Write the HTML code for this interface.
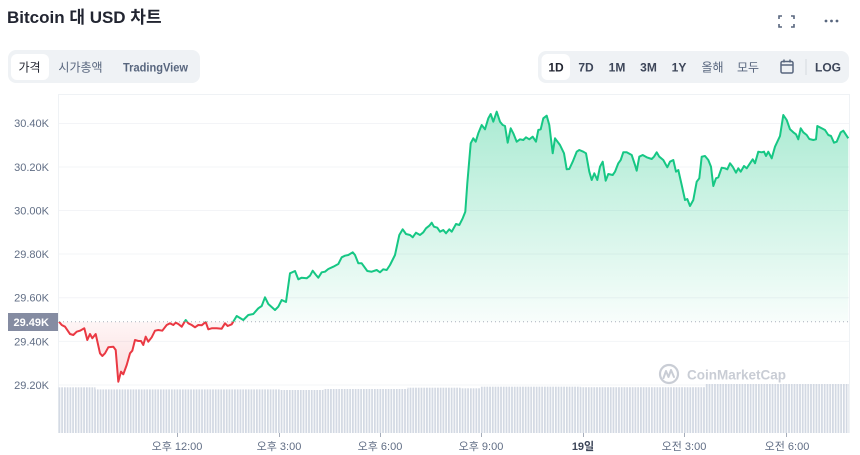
<!DOCTYPE html>
<html><head><meta charset="utf-8">
<style>
html,body{margin:0;padding:0;background:#fff;}
body{width:860px;height:455px;overflow:hidden;position:relative;font-family:"Liberation Sans","Noto Sans CJK KR",sans-serif;}
svg{position:absolute;left:0;top:0;}
text{font-family:"Liberation Sans","Noto Sans CJK KR",sans-serif;}
</style></head>
<body>
<svg width="860" height="455" viewBox="0 0 860 455" xmlns="http://www.w3.org/2000/svg" xmlns:xlink="http://www.w3.org/1999/xlink">
<defs>
  <linearGradient id="gg" gradientUnits="userSpaceOnUse" x1="0" y1="112" x2="0" y2="322">
    <stop offset="0" stop-color="#16c784" stop-opacity="0.36"/>
    <stop offset="1" stop-color="#16c784" stop-opacity="0.03"/>
  </linearGradient>
  <linearGradient id="rg" gradientUnits="userSpaceOnUse" x1="0" y1="322" x2="0" y2="383">
    <stop offset="0" stop-color="#ea3943" stop-opacity="0.05"/>
    <stop offset="1" stop-color="#ea3943" stop-opacity="0.18"/>
  </linearGradient>
  <clipPath id="above"><rect x="0" y="90" width="860" height="231.8"/></clipPath>
  <clipPath id="below"><rect x="0" y="321.8" width="860" height="120"/></clipPath>
  <pattern id="vb" patternUnits="userSpaceOnUse" x="58.5" y="0" width="2.743" height="455">
    <rect x="0" y="0" width="1.75" height="455" fill="#d3d9e3"/>
  </pattern>
  <path id="area" d="M58.5,321.8 L59,321.7 61.7,325 65,326.7 70,334 73.3,335 76.7,331.7 80,330.7 84.3,328.3 87.3,340 90,334 92.3,338.3 95.7,334 100,353.3 102.3,356 105,353.3 108.3,347.3 113.3,346.7 115.7,350 118.3,381.7 121,371.7 123.3,374.3 126.7,365 130,353.3 132.3,350.7 135,340 138.3,341 141,341 143.3,345 145.7,336.7 148.3,341.7 151.7,337.3 155,330.7 158.3,330 162.3,330.7 166.7,325 170,323.3 173.3,325 175.7,322.7 178.3,324 181.7,326.7 185.7,320 188.3,323.3 191.7,325 195,327.3 198.3,325 201.7,325.3 205.7,322 208.3,329.3 211.7,328.3 216.7,328.3 221.7,328.7 225,323.3 227.7,326 231.7,324.3 236.7,316 240,318 243.3,320 248.3,315 253.3,314 258.3,308.3 261.7,306 265,297.3 268.3,304 275,310 278.3,306.7 281.7,300 286,302 290,273.3 295,271 298.3,279.3 301.7,277.7 306.7,278.3 310,275.7 312.7,270.7 316,275 318.3,277.7 321.7,272.3 325,271.7 328.3,269 333.3,266.7 338.3,264 341.7,257.3 345,255.7 348.3,255 352.7,252.3 355,255 358.3,263.3 361.7,263.3 367.3,271 371.7,271.7 376.7,270 380,272.3 383.3,269.3 386.7,270 390,265 395,255 399.3,235 402.7,229.3 406,234 410,235 412.7,237.3 416,232.7 420,235 423.3,232.3 426,228.3 429.3,225.7 431.7,222.7 434,226.7 437.3,227.7 440,231.7 443.3,230 446,233.3 449.3,229.3 451.7,231.7 456,224 459.3,225 462.7,218.3 465.3,211.7 467.3,183.3 470.7,143.3 473.3,138.3 475.7,141.7 478.3,133.3 481.7,125 485,129.3 488.3,118.3 490.7,114 493.3,121.7 496.7,111.7 500,121.7 502.7,125 505,126 507.7,142.7 510.7,128.3 513.3,133.3 516.7,141.7 520,139.3 523.3,140 526,137.3 529.3,139.3 532.7,136.7 536,141.7 538.3,130 540.7,129.3 543.3,118.3 546.7,115.7 549.3,125 552.7,153.3 555,138.3 560,145 564,153.3 566.7,169.3 569.3,169 572.7,161.7 576.7,151.7 579.3,150 583.3,151.7 586,153.3 589.3,171.7 591.7,180 594.3,173.3 597.3,180 600,166.7 602.7,161.7 605.7,180.7 608.3,174 612.7,175 615,171.7 618.3,163.3 620.7,160 623.3,152.3 626.7,152.3 631.7,155 635,165 636.7,170.7 639.3,156.7 642.7,155 646.7,157.3 651.7,159 654,156.7 656.7,152.3 659.3,156.7 663.3,160 667.3,167.3 670,161.7 673.3,160 676,171.7 678.3,170 681.7,185 685,200 687.3,199 690,206 693.3,200 696.7,181.7 699.3,178.3 701.7,156.7 705,156 708.3,160 711,166.7 713.3,186 716,178.3 718.3,177.3 721.7,167.7 725,168.3 727.3,169.3 730,163.3 732.7,166.7 736,172.7 738.3,168.3 740.7,171.7 744,166 746.7,168.3 750,163.3 752.7,159.3 755,163.3 758.3,151.7 761.7,152.3 764,151.7 766,156 768.3,151.7 771.7,158.3 775,146.7 780,136 783.3,115 786.7,120 790,129.3 793.3,132.3 796,134.3 798.3,139.3 800.7,128.3 803.3,132.3 806.7,135 809.3,139 813.3,140 816,139.3 817.3,126 821.7,128.3 825,130 828.3,135 831,136 834,142.7 836.7,141.7 840.7,132.3 843.3,130.7 848.3,138.3 L848.3,321.8 Z"/>
  <polyline id="pl" points="59,321.7 61.7,325 65,326.7 70,334 73.3,335 76.7,331.7 80,330.7 84.3,328.3 87.3,340 90,334 92.3,338.3 95.7,334 100,353.3 102.3,356 105,353.3 108.3,347.3 113.3,346.7 115.7,350 118.3,381.7 121,371.7 123.3,374.3 126.7,365 130,353.3 132.3,350.7 135,340 138.3,341 141,341 143.3,345 145.7,336.7 148.3,341.7 151.7,337.3 155,330.7 158.3,330 162.3,330.7 166.7,325 170,323.3 173.3,325 175.7,322.7 178.3,324 181.7,326.7 185.7,320 188.3,323.3 191.7,325 195,327.3 198.3,325 201.7,325.3 205.7,322 208.3,329.3 211.7,328.3 216.7,328.3 221.7,328.7 225,323.3 227.7,326 231.7,324.3 236.7,316 240,318 243.3,320 248.3,315 253.3,314 258.3,308.3 261.7,306 265,297.3 268.3,304 275,310 278.3,306.7 281.7,300 286,302 290,273.3 295,271 298.3,279.3 301.7,277.7 306.7,278.3 310,275.7 312.7,270.7 316,275 318.3,277.7 321.7,272.3 325,271.7 328.3,269 333.3,266.7 338.3,264 341.7,257.3 345,255.7 348.3,255 352.7,252.3 355,255 358.3,263.3 361.7,263.3 367.3,271 371.7,271.7 376.7,270 380,272.3 383.3,269.3 386.7,270 390,265 395,255 399.3,235 402.7,229.3 406,234 410,235 412.7,237.3 416,232.7 420,235 423.3,232.3 426,228.3 429.3,225.7 431.7,222.7 434,226.7 437.3,227.7 440,231.7 443.3,230 446,233.3 449.3,229.3 451.7,231.7 456,224 459.3,225 462.7,218.3 465.3,211.7 467.3,183.3 470.7,143.3 473.3,138.3 475.7,141.7 478.3,133.3 481.7,125 485,129.3 488.3,118.3 490.7,114 493.3,121.7 496.7,111.7 500,121.7 502.7,125 505,126 507.7,142.7 510.7,128.3 513.3,133.3 516.7,141.7 520,139.3 523.3,140 526,137.3 529.3,139.3 532.7,136.7 536,141.7 538.3,130 540.7,129.3 543.3,118.3 546.7,115.7 549.3,125 552.7,153.3 555,138.3 560,145 564,153.3 566.7,169.3 569.3,169 572.7,161.7 576.7,151.7 579.3,150 583.3,151.7 586,153.3 589.3,171.7 591.7,180 594.3,173.3 597.3,180 600,166.7 602.7,161.7 605.7,180.7 608.3,174 612.7,175 615,171.7 618.3,163.3 620.7,160 623.3,152.3 626.7,152.3 631.7,155 635,165 636.7,170.7 639.3,156.7 642.7,155 646.7,157.3 651.7,159 654,156.7 656.7,152.3 659.3,156.7 663.3,160 667.3,167.3 670,161.7 673.3,160 676,171.7 678.3,170 681.7,185 685,200 687.3,199 690,206 693.3,200 696.7,181.7 699.3,178.3 701.7,156.7 705,156 708.3,160 711,166.7 713.3,186 716,178.3 718.3,177.3 721.7,167.7 725,168.3 727.3,169.3 730,163.3 732.7,166.7 736,172.7 738.3,168.3 740.7,171.7 744,166 746.7,168.3 750,163.3 752.7,159.3 755,163.3 758.3,151.7 761.7,152.3 764,151.7 766,156 768.3,151.7 771.7,158.3 775,146.7 780,136 783.3,115 786.7,120 790,129.3 793.3,132.3 796,134.3 798.3,139.3 800.7,128.3 803.3,132.3 806.7,135 809.3,139 813.3,140 816,139.3 817.3,126 821.7,128.3 825,130 828.3,135 831,136 834,142.7 836.7,141.7 840.7,132.3 843.3,130.7 848.3,138.3"/>
</defs>

<!-- Title -->
<text x="7" y="23" font-size="17" font-weight="bold" fill="#222531">Bitcoin 대 USD 차트</text>

<!-- top right icons -->
<g stroke="#58667e" stroke-width="1.6" fill="none">
  <path d="M779,19 V16 H782"/>
  <path d="M791,16 H794 V19"/>
  <path d="M779,24 V27 H782"/>
  <path d="M791,27 H794 V24"/>
</g>
<g fill="#58667e">
  <circle cx="826" cy="21" r="1.4"/>
  <circle cx="831.5" cy="21" r="1.4"/>
  <circle cx="837" cy="21" r="1.4"/>
</g>

<!-- Left tabs -->
<rect x="8" y="50" width="192" height="33" rx="8" fill="#eff2f5"/>
<rect x="11" y="54" width="38" height="26" rx="6" fill="#fff"/>
<text x="29.5" y="71.5" font-size="12" text-anchor="middle" fill="#222531">가격</text>
<text x="80.5" y="71.5" font-size="12" text-anchor="middle" fill="#58667e">시가총액</text>
<text x="155.5" y="71.5" font-size="11.5" font-weight="bold" text-anchor="middle" fill="#58667e" textLength="65" lengthAdjust="spacingAndGlyphs">TradingView</text>

<!-- Right tabs -->
<rect x="538" y="51" width="311" height="32" rx="8" fill="#eff2f5"/>
<rect x="541.5" y="54" width="28.5" height="26" rx="6" fill="#fff"/>
<g font-size="12" font-weight="bold" text-anchor="middle" fill="#3d4659">
  <text x="556" y="71.5" fill="#222531">1D</text>
  <text x="586" y="71.5">7D</text>
  <text x="617" y="71.5">1M</text>
  <text x="648.5" y="71.5">3M</text>
  <text x="679" y="71.5">1Y</text>
  <text x="828" y="71.5">LOG</text>
</g>
<g font-size="12" text-anchor="middle" fill="#58667e">
  <text x="712.5" y="71.5">올해</text>
  <text x="748" y="71.5">모두</text>
</g>
<g stroke="#58667e" stroke-width="1.5" fill="none">
  <rect x="781" y="61.5" width="12" height="11.5" rx="1.5"/>
  <line x1="781" y1="65" x2="793" y2="65"/>
  <line x1="784" y1="59.5" x2="784" y2="62.5"/>
  <line x1="790" y1="59.5" x2="790" y2="62.5"/>
</g>
<line x1="806" y1="59" x2="806" y2="75" stroke="#d5d9e0" stroke-width="1"/>

<!-- Chart frame -->
<g stroke="#eff2f5" stroke-width="1" fill="none">
  <line x1="58" y1="94.5" x2="849" y2="94.5"/>
  <line x1="58.5" y1="94" x2="58.5" y2="433"/>
  <line x1="849.5" y1="94" x2="849.5" y2="433"/>
</g>
<!-- gridlines -->
<g stroke="#f3f4f7" stroke-width="1">
  <line x1="59" y1="123.5" x2="849" y2="123.5"/>
  <line x1="59" y1="167" x2="849" y2="167"/>
  <line x1="59" y1="210.5" x2="849" y2="210.5"/>
  <line x1="59" y1="254" x2="849" y2="254"/>
  <line x1="59" y1="297.7" x2="849" y2="297.7"/>
  <line x1="59" y1="341.4" x2="849" y2="341.4"/>
  <line x1="59" y1="385" x2="849" y2="385"/>
</g>

<!-- Y labels -->
<g font-size="11" text-anchor="end" fill="#616e85">
  <text x="49" y="127">30.40K</text>
  <text x="49" y="171">30.20K</text>
  <text x="49" y="214.5">30.00K</text>
  <text x="49" y="258">29.80K</text>
  <text x="49" y="301.7">29.60K</text>
  <text x="49" y="345.4">29.40K</text>
  <text x="49" y="389">29.20K</text>
</g>

<!-- watermark -->
<g>
  <circle cx="669" cy="374" r="9" fill="none" stroke="#c9cdd5" stroke-width="2.2"/>
  <path d="M663.5,378 L666,371 L668.5,377 L671,370 L674,377" fill="none" stroke="#c9cdd5" stroke-width="2" stroke-linejoin="round" stroke-linecap="round"/>
  <text x="687" y="379.5" font-size="13.5" font-weight="bold" fill="#c9cdd5" textLength="99" lengthAdjust="spacingAndGlyphs">CoinMarketCap</text>
</g>

<!-- volume bars -->
<g fill="url(#vb)">
  <rect x="58.5" y="387.3" width="37" height="45.7"/>
  <rect x="95.5" y="389.4" width="185" height="43.6"/>
  <rect x="280.5" y="390" width="43" height="43"/>
  <rect x="323.5" y="389" width="84" height="44"/>
  <rect x="407.5" y="387.7" width="53" height="45.3"/>
  <rect x="460.5" y="388.3" width="20" height="44.7"/>
  <rect x="480.5" y="386.7" width="100" height="46.3"/>
  <rect x="580.5" y="387.2" width="125" height="45.8"/>
  <rect x="705.5" y="384" width="143.5" height="49"/>
</g>

<!-- area fills -->
<use href="#area" xlink:href="#area" fill="url(#gg)" clip-path="url(#above)"/>
<use href="#area" xlink:href="#area" fill="url(#rg)" clip-path="url(#below)"/>

<!-- baseline dotted -->
<line x1="59" y1="321.8" x2="849" y2="321.8" stroke="#aab0bc" stroke-width="1" stroke-dasharray="1 3"/>

<!-- price line -->
<use href="#pl" xlink:href="#pl" fill="none" stroke="#16c784" stroke-width="2" stroke-linejoin="round" clip-path="url(#above)"/>
<use href="#pl" xlink:href="#pl" fill="none" stroke="#ea3943" stroke-width="2" stroke-linejoin="round" clip-path="url(#below)"/>

<!-- current price label -->
<rect x="8" y="313" width="50" height="18" fill="#858ca2"/>
<text x="49" y="326" font-size="11" font-weight="bold" text-anchor="end" fill="#fff">29.49K</text>

<!-- x ticks -->
<g stroke="#a6adba" stroke-width="1">
  <line x1="177.5" y1="433" x2="177.5" y2="437"/>
  <line x1="279.5" y1="433" x2="279.5" y2="437"/>
  <line x1="380.5" y1="433" x2="380.5" y2="437"/>
  <line x1="481.5" y1="433" x2="481.5" y2="437"/>
  <line x1="583.5" y1="433" x2="583.5" y2="437"/>
  <line x1="684.5" y1="433" x2="684.5" y2="437"/>
  <line x1="786.5" y1="433" x2="786.5" y2="437"/>
</g>
<g font-size="11" text-anchor="middle" fill="#616e85">
  <text x="177" y="450">오후 12:00</text>
  <text x="279" y="450">오후 3:00</text>
  <text x="380" y="450">오후 6:00</text>
  <text x="481" y="450">오후 9:00</text>
  <text x="583" y="450" font-weight="bold" fill="#3d4659">19일</text>
  <text x="684" y="450">오전 3:00</text>
  <text x="787" y="450">오전 6:00</text>
</g>
</svg>
</body></html>
